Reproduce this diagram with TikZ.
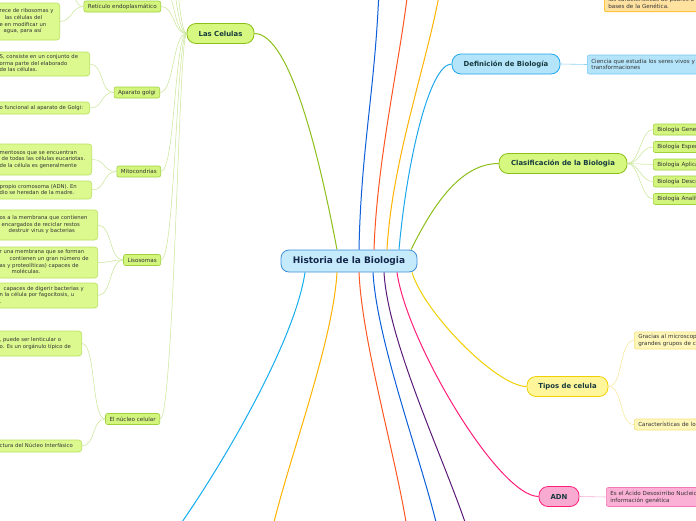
\documentclass[tikz,border=0pt]{standalone}
\usepackage{fontspec}
\setmainfont{DejaVu Sans}
\definecolor{rootfill}{RGB}{197, 234, 251}
\definecolor{rootline}{RGB}{60, 143, 217}
\definecolor{rootink}{RGB}{20, 40, 75}
\definecolor{topicink}{RGB}{22, 58, 62}
\definecolor{celgreen}{RGB}{141, 191, 26}
\definecolor{celfill}{RGB}{214, 247, 128}
\definecolor{subfill}{RGB}{211, 245, 126}
\definecolor{subline}{RGB}{160, 210, 60}
\definecolor{leaffill}{RGB}{220, 249, 143}
\definecolor{leafline}{RGB}{185, 225, 95}
\definecolor{twiggreen}{RGB}{200, 230, 150}
\definecolor{defblue}{RGB}{30, 168, 236}
\definecolor{deffill}{RGB}{180, 228, 250}
\definecolor{defleaf}{RGB}{120, 200, 240}
\definecolor{tipyellow}{RGB}{240, 208, 0}
\definecolor{tipfill}{RGB}{255, 245, 155}
\definecolor{tipleaf}{RGB}{255, 247, 185}
\definecolor{tipline}{RGB}{245, 225, 120}
\definecolor{adnpink}{RGB}{255, 30, 120}
\definecolor{adnfill}{RGB}{249, 170, 208}
\definecolor{adnleaf}{RGB}{251, 176, 213}
\definecolor{adnline}{RGB}{240, 120, 180}
\definecolor{darkblue}{RGB}{12, 95, 216}
\definecolor{redorange}{RGB}{255, 87, 34}
\definecolor{amber}{RGB}{255, 179, 0}
\definecolor{plumline}{RGB}{90, 26, 120}
\definecolor{skyblue}{RGB}{20, 174, 240}
\definecolor{orangefill}{RGB}{255, 225, 160}
\usetikzlibrary{calc}
\newcommand{\leaftext}[2]{\begin{tabular}{@{}p{#1}@{}}#2\end{tabular}}

\begin{document}
\begin{tikzpicture}[x=1pt, y=-1pt,
  root/.style={draw=rootline, fill=rootfill, line width=0.8pt, rounded corners=8pt,
    minimum width=136pt, minimum height=22pt, text=rootink,
    font=\bfseries\fontsize{9}{10}\selectfont},
  topic/.style={line width=0.8pt, rounded corners=9pt, minimum height=20pt,
    text=topicink, font=\bfseries\fontsize{6.9}{8}\selectfont},
  sub/.style={draw=subline, fill=subfill, line width=0.6pt, rounded corners=2pt,
    minimum height=11pt, inner xsep=4pt, inner ysep=1pt, text=black!80,
    font=\fontsize{5.6}{6.8}\selectfont},
  leaf/.style={draw=leafline, fill=leaffill, line width=0.6pt, rounded corners=3pt,
    inner xsep=3pt, inner ysep=1pt, text=black!80,
    font=\fontsize{5.3}{6.6}\selectfont},
  twig/.style={draw=twiggreen, line width=0.5pt},
  branch/.style={line width=1pt}]

  \fill[white] (0,0) rectangle (696,520);
  \useasboundingbox (0,0) rectangle (696,520);

  % Central topic
  \node[root] (root) at (349,261) {Historia de la Biologia};

  % Main topics
  \node[topic, draw=celgreen, fill=celfill, minimum width=67pt] (celulas) at (220.5,33.5) {Las Celulas};
  \node[topic, draw=defblue, fill=deffill, minimum width=108pt] (definicion) at (506,64) {Definición de Biología};
  \node[topic, draw=celgreen, fill=celfill, minimum width=128pt] (clasif) at (563,163.5) {Clasificación de la Biologia};
  \node[topic, draw=tipyellow, fill=tipfill, minimum width=81pt] (tipos) at (567.5,386.5) {Tipos de celula};
  \node[topic, draw=adnpink, fill=adnfill, minimum width=40pt] (adn) at (559,496.5) {ADN};

  % Free ends of the branches that leave the page
  \coordinate (topblue) at (379,-10);
  \coordinate (topred) at (408,-10);
  \coordinate (topamber) at (440,-10);
  \coordinate (endsky) at (182,522);
  \coordinate (endorange) at (274,522);
  \coordinate (endred) at (406,522);
  \coordinate (endblue) at (436,522);
  \coordinate (endplum) at (465,522);

  % Branches above the central topic
  \draw[branch, celgreen] ([xshift=-12pt]root.north) .. controls +(-17,-90) and +(36,0) .. (celulas.east);
  \draw[branch, darkblue] ([xshift=10pt]root.north) .. controls +(2,-100) and +(-4,100) .. (topblue);
  \draw[branch, redorange] ([xshift=25pt]root.north) .. controls +(3,-90) and +(-8,70) .. (topred);
  \draw[branch, amber] ([xshift=38pt]root.north) .. controls +(5,-90) and +(-12,70) .. (topamber);
  \draw[branch, defblue] ([xshift=50pt]root.north) .. controls +(8,-90) and +(-22,0) .. (definicion.west);
  \draw[branch, celgreen] ([xshift=62pt]root.north) .. controls +(20,-40) and +(-40,0) .. (clasif.west);

  % Branches below the central topic
  \draw[branch, skyblue] ([xshift=-44pt]root.south) .. controls +(-10,68) and +(43,-62) .. (endsky);
  \draw[branch, amber] ([xshift=-12pt]root.south) .. controls +(-4,68) and +(18,-72) .. (endorange);
  \draw[branch, redorange] ([xshift=10pt]root.south) .. controls +(3,68) and +(-12,-72) .. (endred);
  \draw[branch, darkblue] ([xshift=24pt]root.south) .. controls +(4,68) and +(-18,-72) .. (endblue);
  \draw[branch, plumline] ([xshift=35pt]root.south) .. controls +(4,68) and +(-25,-72) .. (endplum);
  \draw[branch, adnpink] ([xshift=48pt]root.south) .. controls +(10,70) and +(-40,0) .. (adn.west);
  \draw[branch, tipyellow] ([xshift=63pt]root.south) .. controls +(12,40) and +(-30,0) .. (tipos.west);

  % Definicion de Biologia
  \node[sub, draw=defleaf, fill=deffill, anchor=west, align=left, text width=130pt, minimum height=19pt] (ciencia) at (587,64.5)
    {Ciencia que estudia los seres vivos y t\\transformaciones};
  \draw[draw=defleaf!80, line width=0.6pt] (definicion.east) -- (ciencia.west);

  % Clasificacion de la Biologia
  \node[sub, anchor=west, text width=75pt, align=left] (general) at (653,129.5) {Biología General};
  \node[sub, anchor=west, text width=75pt, align=left] (especial) at (653,147) {Biología Especial};
  \node[sub, anchor=west, text width=75pt, align=left] (aplicada) at (653,164.5) {Biología Aplicada};
  \node[sub, anchor=west, text width=75pt, align=left] (descriptiva) at (653,181.5) {Biología Descriptiva};
  \node[sub, anchor=west, text width=75pt, align=left] (analitica) at (653,199) {Biología Analítica};
  \draw[twig] (clasif.east) .. controls +(12,0) and +(-12,0) .. (general.west);
  \draw[twig] (clasif.east) .. controls +(12,0) and +(-12,0) .. (especial.west);
  \draw[twig] (clasif.east) -- (aplicada.west);
  \draw[twig] (clasif.east) .. controls +(12,0) and +(-12,0) .. (descriptiva.west);
  \draw[twig] (clasif.east) .. controls +(12,0) and +(-12,0) .. (analitica.west);

  % Tipos de celula
  \node[sub, draw=tipline, fill=tipleaf, anchor=west, align=left, text width=80pt, minimum height=17pt] (microscopio) at (634,340.5)
    {Gracias al microscop\\grandes grupos de c};
  \node[sub, draw=tipline, fill=tipleaf, anchor=west, align=left, text width=80pt] (caracteristicas) at (634,424.5)
    {Características de lo};
  \draw[draw=tipline!80, line width=0.5pt] (tipos.east) .. controls +(15,0) and +(-15,0) .. (microscopio.west);
  \draw[draw=tipline!80, line width=0.5pt] (tipos.east) .. controls +(15,0) and +(-15,0) .. (caracteristicas.west);

  % ADN
  \node[sub, draw=adnline, fill=adnleaf, anchor=west, align=left, text width=110pt, minimum height=19pt] (acido) at (606,497)
    {Es el Ácido Desoxirribo Nucleico\\información genética};
  \draw[draw=adnline!60, line width=0.6pt] (adn.east) -- (acido.west);

  % Top right note
  \node[sub, draw=amber, fill=orangefill, anchor=south west, align=left, text width=110pt, minimum height=18pt] (genetica) at (604,12)
    {las características de padres a h\\bases de la Genética.};

  % Las Celulas
  \node[sub, anchor=east] (reticulo) at (161,6.5) {Retículo endoplasmático};
  \node[sub, anchor=east] (golgi) at (160,92.5) {Aparato golgi};
  \node[sub, anchor=east] (mito) at (161,171.5) {Mitocondrias};
  \node[sub, anchor=east] (liso) at (161,260) {Lisosomas};
  \node[sub, anchor=east] (nucleo) at (160,419) {El núcleo celular};
  \coordinate (celup1) at (160,-20);
  \coordinate (celup2) at (160,-60);
  \coordinate (celup3) at (160,-110);
  \draw[twig] (celulas.west) .. controls +(-14,0) and +(14,0) .. (celup1);
  \draw[twig] (celulas.west) .. controls +(-12,0) and +(14,0) .. (celup2);
  \draw[twig] (celulas.west) .. controls +(-10,0) and +(14,0) .. (celup3);
  \draw[twig] (celulas.west) .. controls +(-14,0) and +(14,0) .. (reticulo.east);
  \draw[twig] (celulas.west) .. controls +(-14,0) and +(14,0) .. (golgi.east);
  \draw[twig] (celulas.west) .. controls +(-12,0) and +(14,0) .. (mito.east);
  \draw[twig] (celulas.west) .. controls +(-10,0) and +(14,0) .. (liso.east);
  \draw[twig] (celulas.west) .. controls +(-8,0) and +(14,0) .. (nucleo.east);

  % Leaves of Las Celulas
  \node[leaf, anchor=east, minimum height=37pt] (retleaf) at (60,21.5)
    {\leaftext{57pt}{rece de ribosomas y\\\hspace*{5pt}las células del\\e en modificar un\\\hspace*{4pt}agua, para así}};
  \node[leaf, anchor=east, minimum height=24pt] (golgileafa) at (90,64)
    {\leaftext{87pt}{S, consiste en un conjunto de\\orma parte del elaborado\\de las células.}};
  \node[leaf, anchor=east, minimum height=12pt] (golgileafb) at (90,108)
    {\leaftext{87pt}{o funcional al aparato de Golgi:}};
  \node[leaf, anchor=east, minimum height=31pt] (mitoleafa) at (92,159.5)
    {\leaftext{89pt}{mentosos que se encuentran\\\hspace*{2pt}de todas las células eucariotas.\\de la célula es generalmente}};
  \node[leaf, anchor=east, minimum height=18pt] (mitoleafb) at (92,190)
    {\leaftext{89pt}{propio cromosoma (ADN). En\\dio se heredan de la madre.}};
  \node[leaf, anchor=east, minimum height=30pt] (lisoleafa) at (98,225)
    {\leaftext{95pt}{os a la membrana que contienen\\\hspace*{2pt}encargados de reciclar restos\\\hspace*{9pt}destruir virus y bacterias}};
  \node[leaf, anchor=east, minimum height=31pt] (lisoleafb) at (98,262.5)
    {\leaftext{95pt}{r una membrana que se forman\\\hspace*{10pt}contienen un gran número de\\as y proteolíticas) capaces de\\\hspace*{12pt}moléculas.}};
  \node[leaf, anchor=east, minimum height=25pt] (lisoleafc) at (98,295.5)
    {\leaftext{95pt}{\hspace*{4pt}capaces de digerir bacterias y\\n la célula por fagocitosis, u\\.}};
  \node[leaf, anchor=east, minimum height=25pt] (nucleafa) at (82,343.5)
    {\leaftext{79pt}{, puede ser lenticular o\\o. Es un orgánulo típico de}};
  \node[leaf, anchor=east, minimum height=12pt] (nucleafb) at (82,446)
    {\leaftext{79pt}{ctura del Núcleo Interfásico}};

  \coordinate (retup) at (72,-10);
  \draw[twig] (reticulo.west) .. controls +(-8,0) and +(4,8) .. (retup);
  \draw[twig] (reticulo.west) .. controls +(-12,0) and +(12,0) .. (retleaf.east);
  \draw[twig] (golgi.west) .. controls +(-14,0) and +(14,0) .. (golgileafa.east);
  \draw[twig] (golgi.west) .. controls +(-14,0) and +(14,0) .. (golgileafb.east);
  \draw[twig] (mito.west) .. controls +(-14,0) and +(14,0) .. (mitoleafa.east);
  \draw[twig] (mito.west) .. controls +(-14,0) and +(14,0) .. (mitoleafb.east);
  \draw[twig] (liso.west) .. controls +(-14,0) and +(14,0) .. (lisoleafa.east);
  \draw[twig] (liso.west) .. controls +(-14,0) and +(14,0) .. (lisoleafb.east);
  \draw[twig] (liso.west) .. controls +(-14,0) and +(14,0) .. (lisoleafc.east);
  \draw[twig] (nucleo.west) .. controls +(-14,0) and +(14,0) .. (nucleafa.east);
  \draw[twig] (nucleo.west) .. controls +(-14,0) and +(14,0) .. (nucleafb.east);
\end{tikzpicture}
\end{document}
